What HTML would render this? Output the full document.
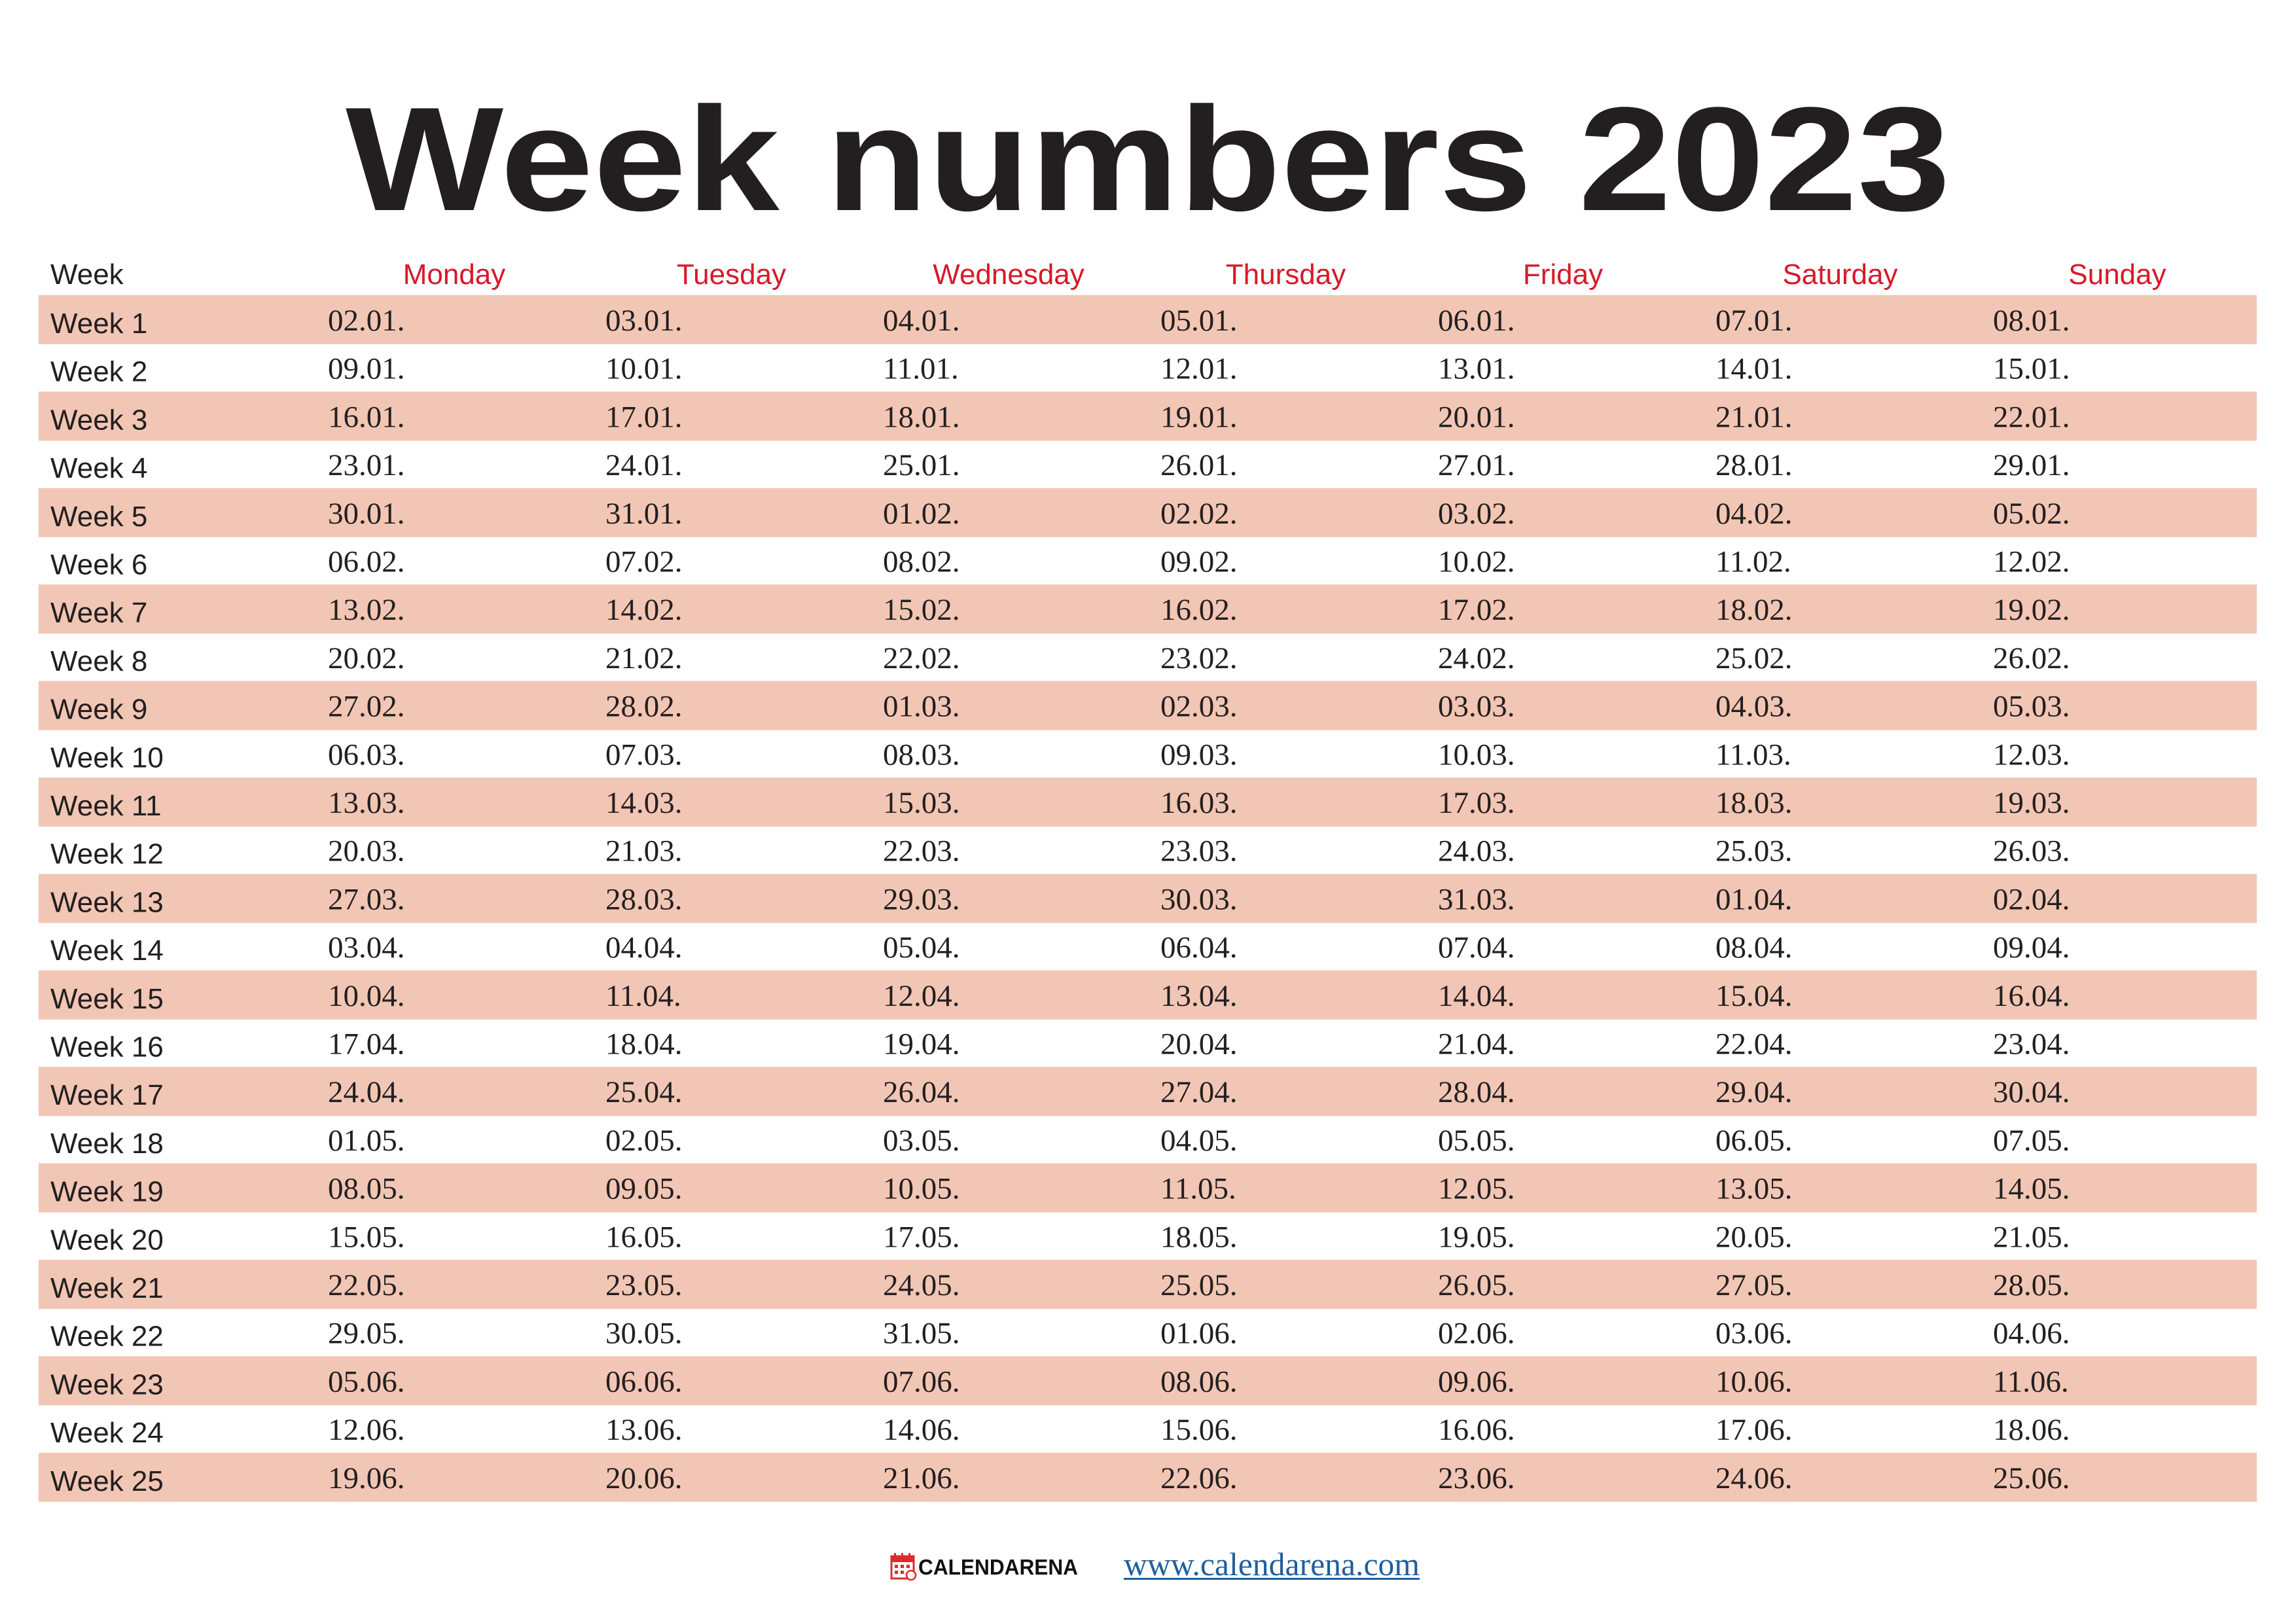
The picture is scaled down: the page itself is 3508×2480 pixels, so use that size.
<!DOCTYPE html>
<html><head><meta charset="utf-8"><style>
html,body{margin:0;padding:0;background:#fff;}
svg{display:block;}
</style></head><body>
<svg id="page" width="3508" height="2480" viewBox="0 0 3508 2480" xmlns="http://www.w3.org/2000/svg">
<rect width="3508" height="2480" fill="#fff"/>
<text x="528" y="321" textLength="2452" lengthAdjust="spacingAndGlyphs" font-family="Liberation Sans, sans-serif" font-weight="bold" font-size="226" fill="#231f20">Week numbers 2023</text>
<g id="table"></g>
<g>
<rect x="1362" y="2378" width="34" height="34" fill="#fff" stroke="#e02a2a" stroke-width="3"/>
<rect x="1362" y="2378" width="34" height="9" fill="#e02a2a"/>
<rect x="1366" y="2373" width="3" height="7" fill="#e02a2a"/><rect x="1377" y="2373" width="3" height="7" fill="#e02a2a"/><rect x="1388" y="2373" width="3" height="7" fill="#e02a2a"/>
<rect x="1367" y="2391" width="5" height="5" fill="#e02a2a"/><rect x="1376" y="2391" width="5" height="5" fill="#e02a2a"/><rect x="1385" y="2391" width="5" height="5" fill="#e02a2a"/>
<rect x="1367" y="2400" width="5" height="5" fill="#e02a2a"/><rect x="1376" y="2400" width="5" height="5" fill="#e02a2a"/>
<circle cx="1392" cy="2407" r="7" fill="#fff" stroke="#e02a2a" stroke-width="2.5"/>
<text x="1403" y="2406" textLength="244" lengthAdjust="spacingAndGlyphs" font-family="Liberation Sans, sans-serif" font-weight="bold" font-size="33" fill="#111">CALENDARENA</text>
</g>
<text x="1717" y="2407" textLength="452" lengthAdjust="spacingAndGlyphs" font-family="Liberation Serif, serif" font-size="50" fill="#1f5fa0">www.calendarena.com</text>
<rect x="1717" y="2411" width="452" height="3" fill="#1f5fa0"/>
</svg>
<script>
const dayNames = ["Monday","Tuesday","Wednesday","Thursday","Friday","Saturday","Sunday"];
const weekLabels = ["Week 1","Week 2","Week 3","Week 4","Week 5","Week 6","Week 7","Week 8","Week 9","Week 10","Week 11","Week 12","Week 13","Week 14","Week 15","Week 16","Week 17","Week 18","Week 19","Week 20","Week 21","Week 22","Week 23","Week 24","Week 25"];
const weekDates = [
["02.01.","03.01.","04.01.","05.01.","06.01.","07.01.","08.01."],
["09.01.","10.01.","11.01.","12.01.","13.01.","14.01.","15.01."],
["16.01.","17.01.","18.01.","19.01.","20.01.","21.01.","22.01."],
["23.01.","24.01.","25.01.","26.01.","27.01.","28.01.","29.01."],
["30.01.","31.01.","01.02.","02.02.","03.02.","04.02.","05.02."],
["06.02.","07.02.","08.02.","09.02.","10.02.","11.02.","12.02."],
["13.02.","14.02.","15.02.","16.02.","17.02.","18.02.","19.02."],
["20.02.","21.02.","22.02.","23.02.","24.02.","25.02.","26.02."],
["27.02.","28.02.","01.03.","02.03.","03.03.","04.03.","05.03."],
["06.03.","07.03.","08.03.","09.03.","10.03.","11.03.","12.03."],
["13.03.","14.03.","15.03.","16.03.","17.03.","18.03.","19.03."],
["20.03.","21.03.","22.03.","23.03.","24.03.","25.03.","26.03."],
["27.03.","28.03.","29.03.","30.03.","31.03.","01.04.","02.04."],
["03.04.","04.04.","05.04.","06.04.","07.04.","08.04.","09.04."],
["10.04.","11.04.","12.04.","13.04.","14.04.","15.04.","16.04."],
["17.04.","18.04.","19.04.","20.04.","21.04.","22.04.","23.04."],
["24.04.","25.04.","26.04.","27.04.","28.04.","29.04.","30.04."],
["01.05.","02.05.","03.05.","04.05.","05.05.","06.05.","07.05."],
["08.05.","09.05.","10.05.","11.05.","12.05.","13.05.","14.05."],
["15.05.","16.05.","17.05.","18.05.","19.05.","20.05.","21.05."],
["22.05.","23.05.","24.05.","25.05.","26.05.","27.05.","28.05."],
["29.05.","30.05.","31.05.","01.06.","02.06.","03.06.","04.06."],
["05.06.","06.06.","07.06.","08.06.","09.06.","10.06.","11.06."],
["12.06.","13.06.","14.06.","15.06.","16.06.","17.06.","18.06."],
["19.06.","20.06.","21.06.","22.06.","23.06.","24.06.","25.06."]
];
const NS="http://www.w3.org/2000/svg";
const g=document.getElementById('table');
const rowTop=i=>451+i*73.7;
const colCenter=j=>694+j*423.5;
const colDateX=j=>501+j*424;
function mk(tag,attrs,text){const e=document.createElementNS(NS,tag);for(const k in attrs)e.setAttribute(k,attrs[k]);if(text!==undefined)e.textContent=text;g.appendChild(e);return e;}
let h=mk('text',{x:77,y:434,'font-family':'Liberation Sans, sans-serif','font-size':44,fill:'#231f20'},'Week');


dayNames.forEach((d,j)=>{
  const t=mk('text',{x:colCenter(j),y:434,'text-anchor':'middle','font-family':'Liberation Sans, sans-serif','font-size':44,fill:'#d7192a'},d);
  
  
});
weekLabels.forEach((w,i)=>{
  if(i%2===0){
    const r=mk('rect',{x:59,y:rowTop(i),width:3389,height:75,fill:'#f2c6b4'});
    
    
  }
  const l=mk('text',{x:77,y:rowTop(i)+58,'font-family':'Liberation Sans, sans-serif','font-size':44,fill:'#231f20'},w);
  
  
  weekDates[i].forEach((dt,j)=>{
    const c=mk('text',{x:colDateX(j),y:rowTop(i)+54,'font-family':'Liberation Serif, serif','font-size':47,fill:'#231f20'},dt);
    
    
  });
});
</script>
</body></html>
